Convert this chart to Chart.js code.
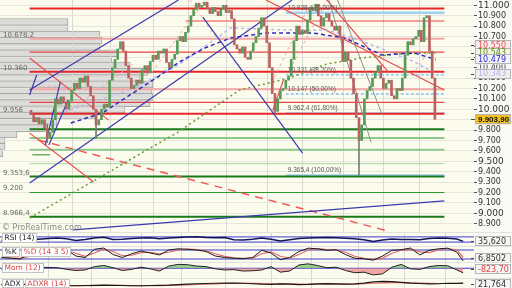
<!DOCTYPE html>
<html>
<head>
<meta charset="utf-8">
<script src="https://cdn.jsdelivr.net/npm/chart.js@4.4.1/dist/chart.umd.min.js"></script>
<style>
  body { margin: 0; background: #e2e2dc; }
  #wrap { position: relative; width: 512px; height: 288px; overflow: hidden; background: #e2e2dc; }
  canvas { position: absolute; left: 0; }
</style>
</head>
<body>
<div id="wrap">
  <canvas id="profile" width="512" height="232" style="top:0px"></canvas>
  <canvas id="main" width="512" height="232" style="top:0px"></canvas>
  <canvas id="rsi" width="512" height="13" style="top:233px"></canvas>
  <canvas id="stoch" width="512" height="15" style="top:247px"></canvas>
  <canvas id="mom" width="512" height="15" style="top:263px"></canvas>
  <canvas id="adx" width="512" height="9" style="top:279px"></canvas>
</div>
<script>
// daily closes (open = previous close)
const firstOpen = 9990;
const closes = [
  9950, 9880, 9920, 9860, 9900, 9820, 9720, 9780, 9900, 10100,
  10050, 10120, 10060, 10000, 10080, 10180, 10250, 10200, 10300, 10260,
  10320, 10220, 10130, 10000, 9850, 9900, 10000, 10050, 10020, 10280,
  10400, 10480, 10580, 10650, 10560, 10420, 10300, 10200, 10230, 10280,
  10250, 10380, 10420, 10350, 10460, 10520, 10480, 10560, 10540, 10580,
  10450, 10400, 10480, 10530, 10660, 10700, 10650, 10740, 10800, 10900,
  10960, 11020, 10980, 11000, 11030, 10970, 10920, 10980, 10940, 10900,
  10960, 11000, 10930, 10950, 10870, 10620, 10580, 10540, 10600, 10500,
  10480, 10560, 10640, 10700, 10780, 10880, 10800, 10640, 10400, 10150,
  9980, 10100, 10180, 10200, 10280, 10320, 10480, 10660, 10800, 10720,
  10760, 10730, 10860, 10980, 10950, 11010, 10900, 10800, 10880, 10920,
  10850, 10800, 10760, 10800, 10700, 10460, 10550, 10470, 10300, 10150,
  9920, 9700, 9850, 10100, 10180, 10220, 10300, 10360, 10420, 10300,
  10200, 10250, 10280, 10130, 10100, 10200, 10180, 10300, 10520, 10650,
  10620, 10680, 10700, 10760, 10650, 10880, 10900, 10560, 10300, 9903.9
];
// [candle, low, high] for the long shadows
const wicks = [[6, 9680, 9860], [24, 9720, 10000], [90, 9962.4, 10150], [121, 9365.4, 9850]];

const monthStarts = [15, 29, 45, 58, 72, 87, 100, 115, 130, 143];
const xMin = -0.5, xMax = 152.5;
const priceMin = 8820, priceMax = 11051;

// volume by price (left side)
const profilePrices = [11020, 10948, 10876, 10804, 10732, 10660, 10588, 10516, 10444, 10372, 10300,
  10228, 10156, 10084, 10012, 9940, 9868, 9796, 9724, 9652, 9580, 9508];
const profileVolumes = [68, 68, 100, 102, 100, 118, 112, 130, 148, 140, 153,
  152, 153, 150, 125, 95, 57, 45, 17, 5, 5, 3];

// horizontal levels
const redStrong = [10970, 10360, 9956];
const redThin = [10550, 10067];
const redThinLate = [57, 10849];
const redLight = [10678.2, 10192];
const greenStrong = [9808, 9353.6, 8966.4];
const greenLight = [9724, 9611];
const greenPale = [9477];
const greenMid = [9200];
const greenShort = [[0.5, 9562], [7, 9562]];
const fibStart = 94;
const fibLevels = [10928.4, 10331.4, 10146.9, 9962.4, 9365.4];
const fibLabels = ['10.928,4 (0,00%)', '10.331 (38,20%)', '10.147 (50,00%)', '9.962,4 (61,80%)', '9.365,4 (100,00%)'];
const leftLabels = [[10678.2, '10.678,2'], [10360, '10.360'], [9956, '9.956'], [9353.6, '9.353,6'], [9200, '9.200'], [8966.4, '8.966,4']];

// moving averages [candle, price]
const smaBlue = [[14.7, 9868], [26.3, 9964], [38.2, 10166], [47.9, 10330], [54.4, 10450], [64.1, 10590],
  [73.7, 10686], [86.7, 10734], [103.8, 10734], [115.7, 10686], [129.6, 10522], [141.5, 10541], [149.3, 10479]];
const smaGreen = [[-0.5, 8955], [44, 9628], [54.4, 9782], [61.8, 9916], [77, 10186], [95.4, 10301],
  [109.2, 10436], [122.2, 10493], [135.1, 10532], [149.3, 10543]];
const smaLavender = [[12.4, 9974], [38.2, 10205], [54.4, 10426], [73.7, 10782], [93.1, 10763], [109.2, 10763],
  [118.9, 10686], [128.6, 10590], [141.5, 10455], [149.3, 10343]];

// trend lines [[candle, price], [candle, price]]
const blueLines = [
  [[-0.5, 9291], [96.3, 11051]],
  [[-0.5, 10186], [54.4, 11051]],
  [[5.3, 9656], [10.8, 10262]],
  [[6.6, 9656], [13.7, 10089]],
  [[-0.5, 10137], [2.1, 10330]],
  [[63.4, 10887], [100.2, 9579]],
  [[15.6, 8840], [152.5, 9119]]
];
const grayLines = [[[113.1, 11051], [129.6, 9945]], [[109.9, 11051], [125.4, 9685]]];
const redLines = [
  [[-0.5, 10493], [28.6, 9896]],
  [[-0.5, 9771], [23.1, 9300]],
  [[86.7, 11051], [152.5, 10186]],
  [[109.2, 11051], [131.8, 10359]],
  [[89.2, 9990], [93.1, 10279]]
];
const redDashed = [[[2.7, 9704], [131.8, 8829]]];
const pinkDashed = [
  [[44.7, 10358], [64.1, 11051]],
  [[58.6, 11051], [68.9, 10666]],
  [[89.9, 10311], [101.8, 10955]],
  [[95.4, 10378], [109.2, 11051]],
  [[13.4, 9974], [38.2, 10445]],
  [[140.6, 10330], [148, 10599]],
  [[-0.5, 10205], [12.4, 10234]]
];

// price tags on the right axis
const rightTags = [[10550, '10.550'], [10543, '10.543'], [10479, '10.479'], [10343, '10.343'], [9903.9, '9.903,90']];
const tagStyles = [
  { bg: '#f7ecec', fg: '#e05050', dy: -7 },
  { bg: '#f3f3e6', fg: '#5b8a10', dy: 0 },
  { bg: '#f3f3fa', fg: '#2a2ac8', dy: 0 },
  { bg: '#eeeeee', fg: '#b4b4ec', dy: 0 },
  { bg: '#f2c21e', fg: '#111111', dy: 0 }
];

// indicator panels, sampled every 3 sessions
const subIdx = [0, 3, 6, 9, 12, 15, 18, 21, 24, 27, 30, 33, 36, 39, 42, 45, 48, 51, 54, 57, 60, 63, 66, 69, 72,
  75, 78, 81, 84, 87, 90, 93, 96, 99, 102, 105, 108, 111, 114, 117, 120, 123, 126, 129, 132, 135, 138, 141, 144, 147, 149];
const rsi = [45, 40, 35, 55, 52, 58, 62, 55, 42, 50, 62, 68, 50, 52, 58, 62, 63, 55, 62, 66, 70, 71, 66, 64, 65,
  48, 46, 52, 62, 52, 38, 48, 58, 62, 64, 66, 64, 60, 56, 48, 34, 46, 54, 50, 50, 49, 58, 62, 60, 54, 35.62];
const stochK = [30, 25, 20, 55, 70, 65, 78, 80, 40, 30, 85, 93, 50, 30, 55, 73, 60, 47, 80, 88, 85, 80, 70, 40, 30,
  25, 22, 30, 78, 60, 15, 30, 70, 92, 88, 78, 82, 50, 25, 22, 12, 40, 78, 82, 93, 47, 78, 88, 92, 65, 6.85];
const stochD = [35, 28, 24, 38, 58, 66, 72, 78, 58, 38, 60, 85, 70, 42, 45, 62, 65, 55, 65, 80, 86, 82, 75, 55, 38,
  28, 24, 26, 55, 68, 38, 25, 50, 80, 90, 82, 80, 65, 38, 25, 18, 26, 58, 78, 86, 68, 62, 80, 90, 80, 30];
const mom = [-300, -400, -500, 100, 200, 150, 100, -200, -400, -300, 300, 500, 100, -400, -200, 200, -100, -500, 400, 700,
  650, 400, 300, -100, -300, -250, -500, -450, -300, 300, -700, -500, 600, 800, 500, 100, 200, -400, -800, -700,
  -1200, -1000, 200, 700, -100, -200, 300, 500, 450, -300, -823.7];
const adx = [15, 16, 17, 15, 13, 12, 11, 10, 10, 11, 12, 13, 12, 11, 10, 10, 11, 12, 13, 15, 17, 19, 20, 21, 22,
  22, 21, 19, 17, 16, 18, 17, 15, 16, 18, 19, 18, 17, 18, 22, 27, 29, 28, 25, 22, 20, 18, 19, 21, 21, 21.764];
const adxr = [16, 16, 16, 16, 15, 14, 13, 12, 11, 11, 11, 12, 12, 12, 11, 11, 11, 11, 12, 13, 14, 16, 17, 18, 20,
  21, 21, 21, 20, 19, 18, 18, 17, 17, 17, 17, 17, 17, 17, 19, 21, 23, 24, 24, 23, 22, 21, 20, 20, 20, 21];

Chart.defaults.font.family = 'DejaVu Sans';
Chart.defaults.animation = false;

function line(pts, color, width, dash, order) {
  return {
    type: 'line',
    data: pts.map((p) => ({ x: p[0], y: p[1] })),
    borderColor: color,
    borderWidth: width,
    borderDash: dash || [],
    pointRadius: 0,
    fill: false,
    tension: 0,
    order: order
  };
}

function monthGrid(chart) {
  const { ctx, chartArea: a, scales } = chart;
  ctx.save();
  ctx.strokeStyle = '#dadad0';
  ctx.lineWidth = 1;
  monthStarts.forEach((m) => {
    const px = Math.round(scales.x.getPixelForValue(m)) + 0.5;
    ctx.beginPath();
    ctx.moveTo(px, a.top);
    ctx.lineTo(px, a.bottom);
    ctx.stroke();
  });
  ctx.restore();
}

function tag(ctx, y, text, bg, fg, font) {
  ctx.fillStyle = bg;
  ctx.fillRect(475, y - 5, 36, 10);
  ctx.strokeStyle = '#b4b4b4';
  ctx.lineWidth = 1;
  ctx.strokeRect(475.5, Math.round(y - 5) + 0.5, 35, 9);
  ctx.fillStyle = '#444';
  ctx.fillRect(471, Math.round(y), 3, 1);
  ctx.fillStyle = fg;
  ctx.font = font;
  ctx.textAlign = 'left';
  ctx.textBaseline = 'middle';
  ctx.fillText(text, 478, y + 0.5);
}

// ---------- volume profile (behind the price chart) ----------
new Chart(document.getElementById('profile'), {
  type: 'bar',
  data: {
    datasets: [{
      data: profilePrices.map((p, k) => ({ x: profileVolumes[k], y: p })),
      backgroundColor: '#dcdcda',
      borderColor: '#a6a6a4',
      borderWidth: 1,
      barThickness: 7
    }]
  },
  options: {
    indexAxis: 'y',
    responsive: false,
    events: [],
    layout: { padding: { right: 38 } },
    plugins: { legend: { display: false }, tooltip: { enabled: false } },
    scales: {
      x: { type: 'linear', min: 0, max: 474, display: false },
      y: { type: 'linear', min: priceMin, max: priceMax, display: false }
    }
  },
  plugins: [{
    id: 'bg',
    beforeDraw(chart) {
      const { ctx, chartArea: a } = chart;
      ctx.save();
      ctx.fillStyle = '#f9f9f5';
      ctx.fillRect(0, 0, chart.width, chart.height);
      ctx.fillStyle = '#fcfcee';
      ctx.fillRect(a.left, a.top, a.right - a.left, a.bottom - a.top);
      ctx.restore();
    }
  }]
});

// ---------- price chart ----------
const opens = closes.map((c, i) => (i === 0 ? firstOpen : closes[i - 1]));
const mainSets = [];
mainSets.push({
  type: 'bar',
  data: closes.map((c, i) => ({ x: i, y: [opens[i], c] })),
  backgroundColor: closes.map((c, i) => (c >= opens[i] ? '#589a58' : '#b86262')),
  borderWidth: 0,
  barThickness: 2,
  grouped: false,
  order: 0
});
mainSets.push({
  type: 'bar',
  data: wicks.map((w) => ({ x: w[0], y: [w[1], w[2]] })),
  backgroundColor: '#7a7a7a',
  barThickness: 1,
  grouped: false,
  order: 1
});
mainSets.push(line(smaBlue, '#2a2ac0', 1.5, [4, 3], 2));
mainSets.push(line(smaGreen, '#6b9a3a', 1.5, [2, 3], 2));
mainSets.push(line(smaLavender, '#b8b8ee', 1.5, [3, 3], 2));
blueLines.forEach((l) => mainSets.push(line(l, '#3a3aae', 1.2, [], 3)));
grayLines.forEach((l) => mainSets.push(line(l, '#8c8c8c', 1, [], 3)));
redLines.forEach((l) => mainSets.push(line(l, '#e84a4a', 1.2, [], 3)));
redDashed.forEach((l) => mainSets.push(line(l, '#ee5a5a', 1.5, [8, 6], 3)));
pinkDashed.forEach((l) => mainSets.push(line(l, '#f2a8a8', 1, [3, 3], 3)));
redStrong.forEach((v) => mainSets.push(line([[xMin, v], [xMax, v]], '#e8262a', 2, [], 4)));
redThin.forEach((v) => mainSets.push(line([[xMin, v], [xMax, v]], '#e84444', 1.2, [], 4)));
mainSets.push(line([redThinLate, [xMax, redThinLate[1]]], '#e84444', 1.2, [], 4));
redLight.forEach((v) => mainSets.push(line([[xMin, v], [xMax, v]], '#f4a6a6', 2, [], 4)));
greenStrong.forEach((v) => mainSets.push(line([[xMin, v], [xMax, v]], '#1a7a1a', 2, [], 4)));
greenLight.forEach((v) => mainSets.push(line([[xMin, v], [xMax, v]], '#8cc88c', 2, [], 4)));
greenPale.forEach((v) => mainSets.push(line([[xMin, v], [xMax, v]], '#a6d4a6', 1, [], 4)));
greenMid.forEach((v) => mainSets.push(line([[xMin, v], [xMax, v]], '#2a9a2a', 1.2, [], 4)));
mainSets.push(line(greenShort, '#2a8a2a', 1, [], 4));
fibLevels.forEach((v, k) => {
  const dash = k === 1 || k === 2 ? [3, 2] : [];
  mainSets.push(line([[fibStart, v], [xMax, v]], '#9fd0f0', k === 0 ? 2.5 : 2, dash, 4));
});

new Chart(document.getElementById('main'), {
  type: 'bar',
  data: { datasets: mainSets },
  options: {
    responsive: false,
    events: [],
    layout: { padding: 0 },
    plugins: { legend: { display: false }, tooltip: { enabled: false } },
    scales: {
      x: { type: 'linear', min: xMin, max: xMax, display: false },
      y: {
        type: 'linear',
        position: 'right',
        min: priceMin,
        max: priceMax,
        afterFit: (s) => { s.width = 38; s.paddingTop = 0; s.paddingBottom = 0; },
        border: { display: false },
        grid: { color: '#e6e6dc', tickLength: 3, tickColor: '#555' },
        ticks: {
          stepSize: 100,
          includeBounds: false,
          autoSkip: false,
          padding: 1,
          color: '#333',
          font: (c) => ({ size: c.tick && c.tick.value % 500 === 0 ? 9 : 8 }),
          callback: (v) => (v / 1000).toFixed(3)
        }
      }
    }
  },
  plugins: [{
    id: 'mainDecor',
    beforeDatasetsDraw(chart) { monthGrid(chart); },
    afterDraw(chart) {
      const { ctx, scales } = chart;
      ctx.save();
      ctx.textAlign = 'left';
      ctx.textBaseline = 'alphabetic';
      ctx.fillStyle = '#6a6a6a';
      ctx.font = '7px "DejaVu Sans"';
      leftLabels.forEach(([v, t]) => ctx.fillText(t, 3, scales.y.getPixelForValue(v) - 2));
      ctx.font = '6.5px "Liberation Sans"';
      ctx.fillStyle = '#5a5a5a';
      const fx = scales.x.getPixelForValue(fibStart) + 2;
      fibLevels.forEach((v, k) => ctx.fillText(fibLabels[k], fx, scales.y.getPixelForValue(v) - 3));
      ctx.font = '8px "DejaVu Sans"';
      ctx.fillStyle = '#8a8a8a';
      ctx.fillText('\u00a9 ProRealTime.com', 2, 230);
      rightTags.forEach(([v, t], k) => {
        const st = tagStyles[k];
        const font = k === 4 ? 'bold 8px "Liberation Sans"' : '8px "DejaVu Sans"';
        tag(ctx, scales.y.getPixelForValue(v) + st.dy, t, st.bg, st.fg, font);
      });
      ctx.restore();
    }
  }]
});

// ---------- indicator panels ----------
function subPanel(id, sets, yMin, yMax, refs, parts, valueText, valueColor, lastValue) {
  refs.forEach((r) => sets.push(line([[xMin, r], [xMax, r]], '#3a3ad0', 1, [], 5)));
  new Chart(document.getElementById(id), {
    type: 'line',
    data: { datasets: sets },
    options: {
      responsive: false,
      events: [],
      layout: { padding: { right: 38 } },
      plugins: { legend: { display: false }, tooltip: { enabled: false } },
      scales: {
        x: { type: 'linear', min: xMin, max: xMax, display: false },
        y: { type: 'linear', min: yMin, max: yMax, display: false }
      }
    },
    plugins: [{
      id: 'subDecor',
      beforeDraw(chart) {
        const { ctx, chartArea: a } = chart;
        ctx.save();
        ctx.fillStyle = '#f9f9f5';
        ctx.fillRect(0, 0, chart.width, chart.height);
        ctx.fillStyle = '#fcfcee';
        ctx.fillRect(a.left, a.top, a.right - a.left, a.bottom - a.top);
        ctx.restore();
      },
      beforeDatasetsDraw(chart) { monthGrid(chart); },
      afterDraw(chart) {
        const { ctx, scales } = chart;
        ctx.save();
        ctx.font = '7.5px "DejaVu Sans"';
        ctx.textBaseline = 'middle';
        ctx.textAlign = 'left';
        let x = 2;
        const h = Math.min(10, chart.height);
        parts.forEach(([t, col]) => {
          const w = Math.ceil(ctx.measureText(t).width) + 5;
          ctx.fillStyle = '#ffffff';
          ctx.fillRect(x, 0.5, w, h - 1);
          ctx.strokeStyle = '#c4c4c4';
          ctx.strokeRect(x + 0.5, 0.5, w - 1, h - 1);
          ctx.fillStyle = col;
          ctx.fillText(t, x + 2.5, h / 2 + 0.5);
          x += w + 1;
        });
        let y = scales.y.getPixelForValue(lastValue);
        y = Math.max(5, Math.min(chart.height - 4, y));
        tag(ctx, y, valueText, '#f6f6f4', valueColor, '8px "DejaVu Sans"');
        ctx.restore();
      }
    }]
  });
}

const pts = (arr) => arr.map((v, k) => [subIdx[k], v]);

subPanel('rsi', [line(pts(rsi), '#14145e', 1.5, [], 1)], 0, 100, [30, 70],
  [['RSI (14)', '#222']], '35,620', '#333', rsi[rsi.length - 1]);

subPanel('stoch', [line(pts(stochK), '#1a1a1a', 1, [], 1), line(pts(stochD), '#e06a6a', 1.2, [], 2)], 0, 100, [20, 80],
  [['%K', '#222'], ['%D (14 3 5)', '#d84848']], '6,8502', '#333', stochK[stochK.length - 1]);

const momSet = line(pts(mom), '#222', 1, [], 1);
momSet.fill = { target: { value: 0 }, above: 'rgba(120,188,110,0.75)', below: 'rgba(238,140,140,0.75)' };
subPanel('mom', [momSet], -1750, 950, [0],
  [['Mom (12)', '#d84848']], '-823,70', '#e04040', -200);

subPanel('adx', [line(pts(adx), '#1a1a1a', 1.2, [], 1), line(pts(adxr), '#e06a6a', 1.2, [], 2)], 0, 40, [],
  [['ADX', '#222'], ['ADXR (14)', '#d84848']], '21,764', '#333', adx[adx.length - 1]);
</script>
</body>
</html>
